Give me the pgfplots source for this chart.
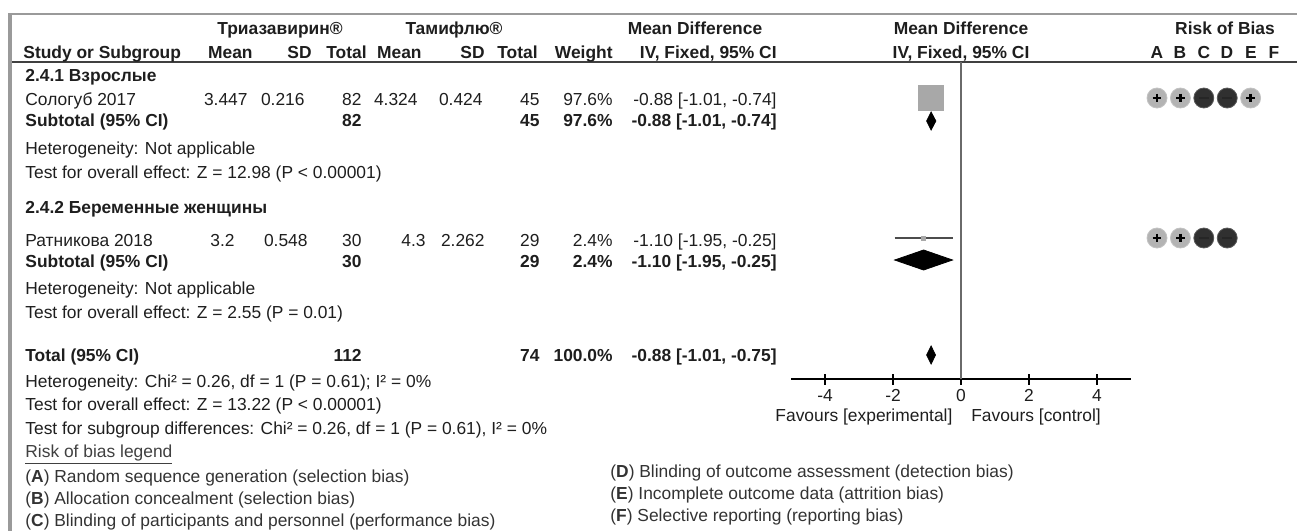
\documentclass[border=0pt]{standalone}
\usepackage{fontspec}
\setmainfont{Liberation Sans}
\usepackage{pgfplots}
\pgfplotsset{compat=1.18}

\definecolor{txt}{HTML}{1E1E1E}
\definecolor{frame}{HTML}{9A9A9A}
\definecolor{sqgray}{HTML}{A8A8A8}
\definecolor{cilight}{HTML}{B3B3B3}
\definecolor{cidark}{HTML}{303030}
\definecolor{zline}{HTML}{6A6A6A}

\begin{document}
\begin{tikzpicture}[x=0.5pt, y=-0.5pt, font=\fontsize{8.7}{10}\selectfont,
  l/.style={inner sep=0, anchor=base west, text=txt},
  r/.style={inner sep=0, anchor=base east, text=txt},
  c/.style={inner sep=0, anchor=base, text=txt}]
\useasboundingbox (0,0) rectangle (1297,531);

% frame lines
\draw[frame, line width=1pt] (9,14) -- (1297,14);
\draw[black!75, line width=1.4pt] (9,62) -- (1297,62);
\draw[frame, line width=1.6pt] (10,13) -- (10,531);

% header
\node[c] at (280,34) {\bfseries Триазавирин®};
\node[c] at (454,34) {\bfseries Тамифлю®};
\node[c] at (695,34) {\bfseries Mean Difference};
\node[c] at (961,34) {\bfseries Mean Difference};
\node[c] at (1225,34) {\bfseries Risk of Bias};
\node[l] at (23,58) {\bfseries Study or Subgroup};
\node[r] at (253,58) {\bfseries Mean};
\node[r] at (312,58) {\bfseries SD};
\node[r] at (367,58) {\bfseries Total};
\node[r] at (422,58) {\bfseries Mean};
\node[r] at (485,58) {\bfseries SD};
\node[r] at (538,58) {\bfseries Total};
\node[r] at (613,58) {\bfseries Weight};
\node[r] at (777,58) {\bfseries IV, Fixed, 95\% CI};
\node[c] at (961,58) {\bfseries IV, Fixed, 95\% CI};
\foreach \lab/\xx in {A/1157,B/1180,C/1204,D/1227,E/1251,F/1274}
  \node[c] at (\xx,58) {\bfseries \lab};

% subgroup 2.4.1
\node[l] at (25,81) {\bfseries 2.4.1 Взрослые};
\node[l] at (25,105) {Сологуб 2017};
\node[r] at (248,105) {3.447};
\node[r] at (305,105) {0.216};
\node[r] at (362,105) {82};
\node[r] at (418,105) {4.324};
\node[r] at (483,105) {0.424};
\node[r] at (540,105) {45};
\node[r] at (613,105) {97.6\%};
\node[r] at (777,105) {-0.88 [-1.01, -0.74]};
\node[l] at (25,126) {\bfseries Subtotal (95\% CI)};
\node[r] at (362,126) {\bfseries 82};
\node[r] at (540,126) {\bfseries 45};
\node[r] at (613,126) {\bfseries 97.6\%};
\node[r] at (777,126) {\bfseries -0.88 [-1.01, -0.74]};
\node[l] at (25,154) {Heterogeneity: Not applicable};
\node[l] at (25,178) {Test for overall effect: Z = 12.98 (P < 0.00001)};

% subgroup 2.4.2
\node[l] at (25,213) {\bfseries 2.4.2 Беременные женщины};
\node[l] at (25,246) {Ратникова 2018};
\node[r] at (235,246) {3.2};
\node[r] at (308,246) {0.548};
\node[r] at (362,246) {30};
\node[r] at (426,246) {4.3};
\node[r] at (485,246) {2.262};
\node[r] at (540,246) {29};
\node[r] at (613,246) {2.4\%};
\node[r] at (777,246) {-1.10 [-1.95, -0.25]};
\node[l] at (25,267) {\bfseries Subtotal (95\% CI)};
\node[r] at (362,267) {\bfseries 30};
\node[r] at (540,267) {\bfseries 29};
\node[r] at (613,267) {\bfseries 2.4\%};
\node[r] at (777,267) {\bfseries -1.10 [-1.95, -0.25]};
\node[l] at (25,294) {Heterogeneity: Not applicable};
\node[l] at (25,318) {Test for overall effect: Z = 2.55 (P = 0.01)};

% total
\node[l] at (25,361) {\bfseries Total (95\% CI)};
\node[r] at (362,361) {\bfseries 112};
\node[r] at (540,361) {\bfseries 74};
\node[r] at (613,361) {\bfseries 100.0\%};
\node[r] at (777,361) {\bfseries -0.88 [-1.01, -0.75]};
\node[l] at (25,387) {Heterogeneity: Chi² = 0.26, df = 1 (P = 0.61); I² = 0\%};
\node[l] at (25,410) {Test for overall effect: Z = 13.22 (P < 0.00001)};
\node[l] at (25,434) {Test for subgroup differences: Chi² = 0.26, df = 1 (P = 0.61), I² = 0\%};
\node[l, text=black!75] at (25,457) {\underline{Risk of bias legend}};
\node[l, text=black!80] at (25,482) {(\textbf{A}) Random sequence generation (selection bias)};
\node[l, text=black!80] at (25,504) {(\textbf{B}) Allocation concealment (selection bias)};
\node[l, text=black!80] at (25,526) {(\textbf{C}) Blinding of participants and personnel (performance bias)};
\node[l, text=black!80] at (610,477) {(\textbf{D}) Blinding of outcome assessment (detection bias)};
\node[l, text=black!80] at (610,499) {(\textbf{E}) Incomplete outcome data (attrition bias)};
\node[l, text=black!80] at (610,521) {(\textbf{F}) Selective reporting (reporting bias)};

% forest plot
\begin{axis}[
  at={(395.5pt,-189.5pt)}, anchor=south west,
  scale only axis, width=170pt, height=158.5pt,
  xmin=-5, xmax=5, ymin=-379, ymax=-62,
  clip=false,
  axis x line=bottom, axis y line=none,
  axis line style={-, line width=1pt, black},
  xtick={-4,-2,0,2,4},
  xticklabels={{-4},{-2},{0},{2},{4}},
  tick align=center, major tick length=5.5pt,
  major tick style={line width=0.8pt, black},
  xticklabel style={anchor=base, yshift=-8.5pt, font=\fontsize{8.7}{10}\selectfont, text=txt},
]
\addplot[zline, line width=1pt] coordinates {(0,-62) (0,-379)};
% Сологуб 2017
\addplot[black, line width=0.8pt] coordinates {(-1.01,-98) (-0.74,-98)};
\addplot[only marks, mark=square*, mark size=6.25pt, color=sqgray] coordinates {(-0.88,-98)};
\addplot[fill=black, draw=black] coordinates {(-1.01,-121) (-0.88,-112) (-0.74,-121) (-0.88,-130)} -- cycle;
% Ратникова 2018
\addplot[black!70, line width=1pt] coordinates {(-1.95,-238) (-0.25,-238)};
\addplot[only marks, mark=square*, mark size=1pt, color=sqgray] coordinates {(-1.10,-238)};
\addplot[fill=black, draw=black] coordinates {(-1.95,-260) (-1.10,-250) (-0.25,-260) (-1.10,-270)} -- cycle;
% Total
\addplot[fill=black, draw=black] coordinates {(-1.01,-355) (-0.88,-346) (-0.75,-355) (-0.88,-364)} -- cycle;
\node[inner sep=0, anchor=base east, text=txt] at (axis cs:-0.24,-421) {Favours [experimental]};
\node[inner sep=0, anchor=base west, text=txt] at (axis cs:0.29,-421) {Favours [control]};
\end{axis}

% risk of bias
\begin{axis}[
  at={(578.5pt,-189.5pt)}, anchor=south west,
  scale only axis, width=58.5pt, height=158.5pt,
  xmin=0, xmax=5, ymin=-379, ymax=-62,
  clip=false, hide axis,
]
\addplot[only marks, mark=*, mark size=5pt, mark options={fill=cilight, draw=cilight!80}]
  coordinates {(0,-98) (1,-98) (4,-98) (0,-238) (1,-238)};
\addplot[only marks, mark=+, mark size=2.2pt, mark options={line width=1.2pt, black}]
  coordinates {(0,-98) (1,-98) (4,-98) (0,-238) (1,-238)};
\addplot[only marks, mark=*, mark size=5pt, mark options={fill=cidark, draw=cidark!80}]
  coordinates {(2,-98) (3,-98) (2,-238) (3,-238)};
\addplot[only marks, mark=-, mark size=2.4pt, mark options={line width=1.1pt, black!85}]
  coordinates {(2,-98) (3,-98) (2,-238) (3,-238)};
\end{axis}
\end{tikzpicture}
\end{document}
